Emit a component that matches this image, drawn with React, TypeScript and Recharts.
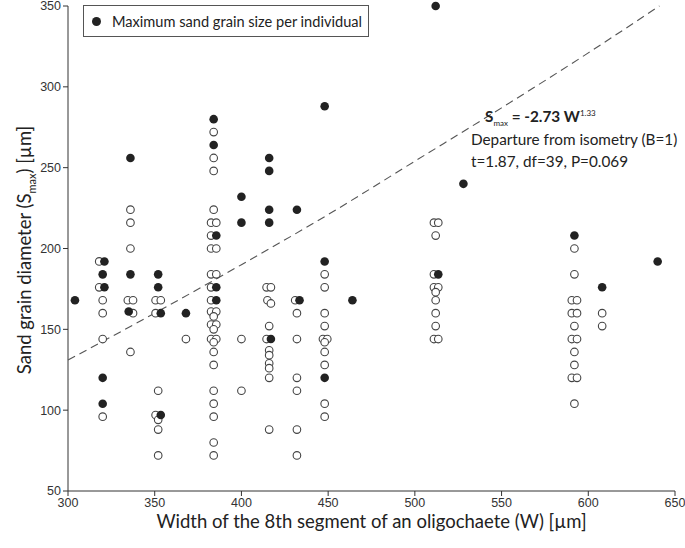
import { ScatterChart, Scatter, XAxis, YAxis } from "recharts";

// [width W (µm), max sand grain S (µm)]
const openGrains: [number, number][] = [
  [318, 192], [318, 176], [320, 168], [320, 160], [320, 144], [320, 96],
  [336, 224], [336, 216], [336, 200], [334.5, 168], [337.5, 168], [337.5, 160], [336, 136],
  [350.5, 168], [353.5, 168], [350.5, 160], [352, 112], [350.5, 97], [352, 94], [352, 88], [352, 72],
  [368, 144],
  [384, 272], [384, 256], [384, 248], [384, 224], [382.5, 216], [385.5, 216], [382.5, 208],
  [382.5, 200], [385.5, 200], [382.5, 184], [385.5, 184], [382.5, 176], [382.5, 168],
  [382.5, 161], [385.5, 161], [384, 158], [382.5, 153], [385.5, 153], [384, 150],
  [382.5, 144], [385.5, 144], [384, 142], [384, 136], [384, 128], [384, 112],
  [384, 104], [384, 96], [384, 80], [384, 72],
  [400, 144], [400, 112],
  [414.5, 176], [417, 176], [415, 168], [417, 166], [416, 152], [414.5, 144],
  [416, 137], [416, 134], [416, 129], [416, 126], [416, 120], [416, 88],
  [431, 168], [432, 160], [432, 144], [432, 120], [432, 112], [432, 88], [432, 72],
  [448, 184], [448, 176], [448, 160], [448, 152], [447, 144], [449.5, 144], [448, 142],
  [448, 136], [448, 128], [448, 104], [448, 96],
  [511, 216], [513.5, 216], [512, 208], [511, 184], [511, 176], [513.5, 176], [512, 173],
  [512, 168], [512, 160], [512, 152], [511, 144], [513.5, 144],
  [592, 200], [592, 184], [590.5, 168], [593.5, 168], [590.5, 160], [593.5, 160], [592, 152],
  [590.5, 144], [593.5, 144], [592, 136], [592, 128], [590.5, 120], [593.5, 120], [592, 104],
  [608, 160], [608, 152],
];

const filledGrains: [number, number][] = [
  [304, 168],
  [321, 192], [320, 184], [321, 176], [320, 120], [320, 104],
  [336, 256], [336, 184], [335, 161],
  [352, 184], [352, 176], [353.5, 160], [353.5, 97],
  [368, 160],
  [384, 280], [384, 264], [385.5, 208], [385.5, 176], [385.5, 168],
  [400, 232], [400, 216],
  [416, 256], [416, 248], [416, 224], [416, 216], [417, 144],
  [432, 224], [433.5, 168],
  [448, 288], [448, 192], [448, 120],
  [464, 168],
  [512, 350], [513.5, 184],
  [528, 240],
  [592, 208],
  [608, 176],
  [640, 192],
];

// dashed allometric fit (leaves the plot at the top edge)
const fitW = [300, 350, 400, 450, 500, 550, 600, 641];
const fitS = [131, 160, 190, 221, 254, 287, 321, 350];

const xTicks = [300, 350, 400, 450, 500, 550, 600, 650];
const yTicks = [50, 100, 150, 200, 250, 300, 350];

const openData = openGrains.map(([w, s]) => ({ w, s }));
const filledData = filledGrains.map(([w, s]) => ({ w, s }));
const fitData = fitW.map((w, i) => ({ w, s: fitS[i] }));

const labelFont = "Lato, 'Open Sans', sans-serif";
const tickStyle = { fontFamily: "'Liberation Sans', Arial, sans-serif", fontSize: 12.5, fill: "#333" };

const OpenDot = (p: any) => <circle cx={p.cx} cy={p.cy} r={3.8} fill="#fff" stroke="#444" strokeWidth={1.1} />;
const FilledDot = (p: any) => <circle cx={p.cx} cy={p.cy} r={4.3} fill="#222" />;

export default function App() {
  return (
    <div style={{ position: "absolute", left: 0, top: 0, width: 685, height: 548, background: "#fff", overflow: "hidden" }}>
      <ScatterChart width={685} height={548} margin={{ top: 6, right: 10, bottom: 0, left: 0 }}>
        <XAxis
          type="number"
          dataKey="w"
          domain={[300, 650]}
          ticks={xTicks}
          stroke="#333"
          tickSize={5}
          tick={tickStyle}
          height={57}
          interval={0}
        />
        <YAxis
          type="number"
          dataKey="s"
          domain={[50, 350]}
          ticks={yTicks}
          stroke="#333"
          tickSize={5}
          tick={tickStyle}
          width={68}
          interval={0}
        />
        <Scatter
          data={fitData}
          line={{ stroke: "#555", strokeWidth: 1.1, strokeDasharray: "8 5" }}
          lineJointType="monotoneX"
          shape={() => <g />}
          isAnimationActive={false}
        />
        <Scatter data={openData} shape={OpenDot} isAnimationActive={false} />
        <Scatter data={filledData} shape={FilledDot} isAnimationActive={false} />
      </ScatterChart>

      {/* legend box */}
      <div
        style={{
          position: "absolute", left: 83, top: 5, width: 286, height: 32,
          border: "1px solid #555", boxSizing: "border-box", background: "#fff", whiteSpace: "nowrap",
          display: "flex", alignItems: "center", fontFamily: labelFont, fontSize: 14.6, color: "#222",
        }}
      >
        <span style={{ width: 9, height: 9, borderRadius: "50%", background: "#222", marginLeft: 8, marginRight: 11, flex: "none" }} />
        Maximum sand grain size per individual
      </div>

      {/* fit annotation */}
      <div style={{ position: "absolute", left: 485, top: 106, fontFamily: labelFont, fontSize: 15.3, color: "#222", lineHeight: "20px", fontWeight: 700, whiteSpace: "nowrap" }}>
        S<sub style={{ fontSize: 8, fontWeight: 400, lineHeight: 0 }}>max</sub> = -2.73 W<sup style={{ fontSize: 8, fontWeight: 400, lineHeight: 0 }}>1.33</sup>
      </div>
      <div style={{ position: "absolute", left: 471, top: 129, fontFamily: labelFont, fontSize: 15.3, color: "#222", lineHeight: "20px", whiteSpace: "nowrap" }}>
        Departure from isometry (B=1)
      </div>
      <div style={{ position: "absolute", left: 471, top: 151, fontFamily: labelFont, fontSize: 15.3, color: "#222", lineHeight: "20px", whiteSpace: "nowrap" }}>
        t=1.87, df=39, P=0.069
      </div>

      {/* axis titles */}
      <div style={{ position: "absolute", left: 68, width: 607, top: 510, textAlign: "center", fontFamily: labelFont, fontSize: 18.5, color: "#222", whiteSpace: "nowrap" }}>
        Width of the 8th segment of an oligochaete (W) [µm]
      </div>
      <div
        style={{
          position: "absolute", left: 24, top: 250, width: 0, height: 0,
          fontFamily: labelFont, fontSize: 18.5, color: "#222",
        }}
      >
        <div style={{ position: "absolute", transform: "translate(-50%, -50%) rotate(-90deg)", whiteSpace: "nowrap" }}>
          Sand grain diameter (S<sub style={{ fontSize: 11, lineHeight: 0 }}>max</sub>) [µm]
        </div>
      </div>
    </div>
  );
}
